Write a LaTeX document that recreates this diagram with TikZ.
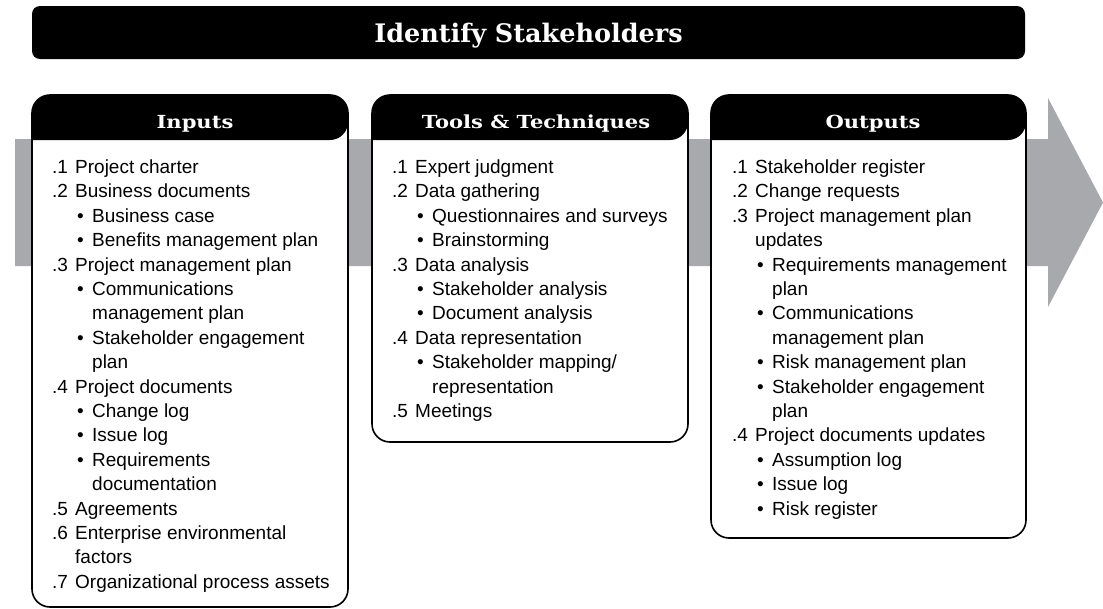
\documentclass[tikz,border=0pt]{standalone}
\usepackage{fontspec}
\setmainfont{Liberation Sans}
\newfontfamily\headfont{DejaVu Serif}
\newfontfamily\headwide{DejaVu Serif}[FakeStretch=1.17]
\definecolor{arrowgray}{HTML}{A7A9AC}
\newcommand\lnum[2]{\makebox[23pt][l]{#1}#2}
\newcommand\lnumc[1]{\hspace*{23pt}#1}
\newcommand\lbul[1]{\hspace*{25pt}\makebox[15pt][l]{•}#1}
\newcommand\lbulc[1]{\hspace*{40pt}#1}
\tikzset{
  ln/.style={anchor=base west, inner sep=0pt, font=\fontsize{19}{24}\selectfont},
  hd/.style={anchor=base, inner sep=0pt, text=white, font=\headwide\bfseries\fontsize{18}{20}\selectfont},
  boxline/.style={draw=black, line width=1.6pt, fill=white},
}
\begin{document}
\begin{tikzpicture}[x=1pt,y=-1pt]
\useasboundingbox (0,0) rectangle (1103,608);
% title
\node[fill=black, rounded corners=8pt, minimum width=993pt, minimum height=53pt,
      text=white, text height=19pt, text depth=0pt, inner sep=0pt,
      font=\headfont\bfseries\fontsize{25.5}{28}\selectfont] (title) at (528.5,32.5) {Identify Stakeholders};
% big arrow
\fill[arrowgray] (15,139) -- (1048,139) -- (1048,98) -- (1103,202.5) -- (1048,307) -- (1048,266) -- (15,266) -- cycle;
% boxes
\foreach \xa/\xb/\yb in {32/348/607, 372/688/442, 711/1026/538}{
  \path[boxline, rounded corners=18pt] (\xa,95) rectangle (\xb,\yb);
  \fill[black] (\xa,140) {[rounded corners=18pt] -- (\xa,95) -- (\xb,95) -- (\xb,140)} -- cycle;
}
\node[hd] (inh) at (195,128) {Inputs};
\node[hd] (tth) at (536,128) {Tools \& Techniques};
\node[hd] (outh) at (873,128) {Outputs};
% inputs
\foreach \t [count=\k from 0] in {
  \lnum{.1}{Project charter},
  \lnum{.2}{Business documents},
  \lbul{Business case},
  \lbul{Benefits management plan},
  \lnum{.3}{Project management plan},
  \lbul{Communications},
  \lbulc{management plan},
  \lbul{Stakeholder engagement},
  \lbulc{plan},
  \lnum{.4}{Project documents},
  \lbul{Change log},
  \lbul{Issue log},
  \lbul{Requirements},
  \lbulc{documentation},
  \lnum{.5}{Agreements},
  \lnum{.6}{Enterprise environmental},
  \lnumc{factors},
  \lnum{.7}{Organizational process assets}}
  \node[ln] (in\k) at (52,{173.5+24.4*\k}) {\t};
% tools
\foreach \t [count=\k from 0] in {
  \lnum{.1}{Expert judgment},
  \lnum{.2}{Data gathering},
  \lbul{Questionnaires and surveys},
  \lbul{Brainstorming},
  \lnum{.3}{Data analysis},
  \lbul{Stakeholder analysis},
  \lbul{Document analysis},
  \lnum{.4}{Data representation},
  \lbul{Stakeholder mapping/},
  \lbulc{representation},
  \lnum{.5}{Meetings}}
  \node[ln] (tt\k) at (392,{173.5+24.4*\k}) {\t};
% outputs
\foreach \t [count=\k from 0] in {
  \lnum{.1}{Stakeholder register},
  \lnum{.2}{Change requests},
  \lnum{.3}{Project management plan},
  \lnumc{updates},
  \lbul{Requirements management},
  \lbulc{plan},
  \lbul{Communications},
  \lbulc{management plan},
  \lbul{Risk management plan},
  \lbul{Stakeholder engagement},
  \lbulc{plan},
  \lnum{.4}{Project documents updates},
  \lbul{Assumption log},
  \lbul{Issue log},
  \lbul{Risk register}}
  \node[ln] (out\k) at (732,{173.5+24.4*\k}) {\t};
\end{tikzpicture}
\end{document}
